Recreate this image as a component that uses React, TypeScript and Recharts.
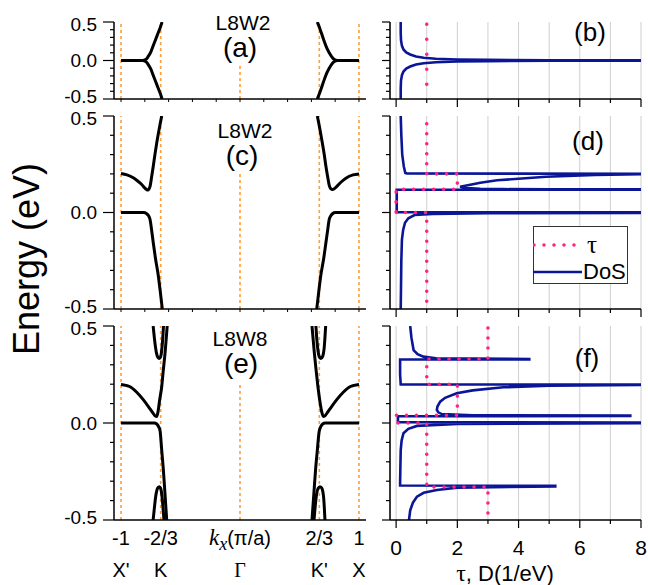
import React from 'react';
import { LineChart, Line, XAxis, YAxis, ReferenceLine, CartesianGrid } from 'recharts';

const FONT = '"Liberation Sans", Arial, sans-serif';
const SERIF = '"Liberation Serif", "Times New Roman", serif';
const ORANGE = '#ff9d3a';
const PINK = '#ff2483';
const NAVY = '#0b1696';

// axis ticks
const energyTicks = [-0.5, -0.4, -0.3, -0.2, -0.1, 0, 0.1, 0.2, 0.3, 0.4, 0.5];
const energyLabels: Record<string, string> = { '-0.5': '-0.5', '0': '0.0', '0.5': '0.5' };
const kMinorTicks = [-1, -0.8, -0.6, -0.4, -0.2, 0, 0.2, 0.4, 0.6, 0.8, 1];
const kTickValues = [-1, -2 / 3, 0, 2 / 3, 1];
const kTickLabels = ['-1', '-2/3', 'k', '2/3', '1'];
const kPointLabels = ["X'", 'K', 'Γ', "K'", 'X'];
const kSymLines = [-1, -2 / 3, 2 / 3, 1];
const gammaTops = [-0.05, 0.2, 0.2];
const dTicks = [0, 1, 2, 3, 4, 5, 6, 7, 8];

// panel (a) bands [k, E]
const aLeftUp = [[-1, 0], [-0.9, 0], [-0.82, 0], [-0.79, 0.015], [-0.77, 0.056], [-0.75, 0.11], [-0.73, 0.19], [-0.71, 0.27], [-0.69, 0.35], [-0.67, 0.43], [-0.655, 0.5]];
const aLeftDown = [[-1, 0], [-0.9, 0], [-0.82, 0], [-0.79, -0.015], [-0.77, -0.056], [-0.75, -0.11], [-0.73, -0.19], [-0.71, -0.27], [-0.69, -0.35], [-0.67, -0.43], [-0.655, -0.5]];
const aRightUp = [[0.65, 0.5], [0.67, 0.42], [0.69, 0.33], [0.71, 0.24], [0.73, 0.16], [0.75, 0.1], [0.77, 0.05], [0.79, 0.015], [0.82, 0], [0.9, 0], [1, 0]];
const aRightDown = [[0.65, -0.5], [0.67, -0.42], [0.69, -0.33], [0.71, -0.24], [0.73, -0.16], [0.75, -0.1], [0.77, -0.05], [0.79, -0.015], [0.82, 0], [0.9, 0], [1, 0]];

// panel (c) bands
const cLeftUp = [[-1, 0.202], [-0.95, 0.195], [-0.897, 0.18], [-0.86, 0.163], [-0.826, 0.145], [-0.8, 0.127], [-0.785, 0.119], [-0.776, 0.116], [-0.765, 0.122], [-0.756, 0.136], [-0.742, 0.188], [-0.729, 0.24], [-0.715, 0.3], [-0.7, 0.36], [-0.68, 0.43], [-0.658, 0.5]];
const cLeftDown = [[-1, 0], [-0.9, 0], [-0.81, 0], [-0.785, -0.006], [-0.77, -0.016], [-0.756, -0.036], [-0.742, -0.095], [-0.729, -0.157], [-0.71, -0.24], [-0.686, -0.33], [-0.67, -0.41], [-0.653, -0.5]];
const cRightUp = [[0.65, 0.5], [0.672, 0.43], [0.692, 0.36], [0.708, 0.3], [0.722, 0.24], [0.736, 0.188], [0.75, 0.14], [0.762, 0.124], [0.779, 0.119], [0.79, 0.122], [0.81, 0.133], [0.85, 0.158], [0.89, 0.178], [0.95, 0.195], [1, 0.2]];
const cRightDown = [[0.645, -0.5], [0.662, -0.41], [0.678, -0.33], [0.703, -0.24], [0.722, -0.157], [0.736, -0.095], [0.75, -0.036], [0.765, -0.016], [0.78, -0.005], [0.8, 0], [0.9, 0], [1, 0]];

// panel (e) bands
const eLeftTop = [[-0.73, 0.5], [-0.72, 0.44], [-0.71, 0.39], [-0.7, 0.355], [-0.69, 0.338], [-0.678, 0.333], [-0.667, 0.342], [-0.658, 0.375], [-0.65, 0.43], [-0.643, 0.5]];
const eLeftMid = [[-1, 0.198], [-0.96, 0.194], [-0.924, 0.187], [-0.87, 0.16], [-0.81, 0.118], [-0.77, 0.085], [-0.73, 0.05], [-0.712, 0.036], [-0.7, 0.034], [-0.69, 0.055], [-0.675, 0.12], [-0.658, 0.187], [-0.645, 0.27], [-0.63, 0.36], [-0.612, 0.5]];
const eLeftZero = [[-1, 0], [-0.9, 0], [-0.72, 0], [-0.7, -0.005], [-0.685, -0.018], [-0.672, -0.04], [-0.658, -0.14], [-0.644, -0.242], [-0.63, -0.37], [-0.616, -0.5]];
const eLeftBot = [[-0.73, -0.5], [-0.72, -0.44], [-0.71, -0.385], [-0.7, -0.35], [-0.69, -0.333], [-0.678, -0.328], [-0.667, -0.337], [-0.657, -0.37], [-0.648, -0.43], [-0.639, -0.5]];
const eRightTop = [[0.638, 0.5], [0.646, 0.43], [0.655, 0.375], [0.666, 0.342], [0.678, 0.333], [0.69, 0.338], [0.7, 0.355], [0.708, 0.39], [0.714, 0.44], [0.72, 0.5]];
const eRightMid = [[0.605, 0.5], [0.625, 0.36], [0.64, 0.27], [0.655, 0.187], [0.672, 0.11], [0.688, 0.055], [0.7, 0.034], [0.712, 0.036], [0.73, 0.05], [0.77, 0.085], [0.81, 0.118], [0.87, 0.16], [0.924, 0.187], [0.96, 0.194], [1, 0.198]];
const eRightZero = [[0.605, -0.5], [0.62, -0.37], [0.635, -0.242], [0.65, -0.14], [0.665, -0.045], [0.68, -0.018], [0.695, -0.005], [0.715, 0], [0.9, 0], [1, 0]];
const eRightBot = [[0.622, -0.5], [0.632, -0.43], [0.643, -0.37], [0.656, -0.337], [0.672, -0.328], [0.685, -0.333], [0.695, -0.35], [0.703, -0.385], [0.709, -0.44], [0.714, -0.5]];

// DoS [D, E] and tau [tau, E]
const dosB = [[0.15, 0.5], [0.15, 0.36], [0.16, 0.26], [0.19, 0.19], [0.24, 0.143], [0.33, 0.105], [0.46, 0.078], [0.65, 0.052], [0.9, 0.035], [1.3, 0.022], [2, 0.013], [3, 0.008], [5, 0.004], [8, 0.002], [8, -0.002], [5, -0.004], [3, -0.008], [2, -0.013], [1.3, -0.022], [0.9, -0.035], [0.65, -0.052], [0.46, -0.078], [0.33, -0.105], [0.24, -0.143], [0.19, -0.19], [0.16, -0.26], [0.15, -0.36], [0.15, -0.5]];
const tauB = [[1, 0.47], [1, -0.5]];

const dosD = [[0.15, 0.5], [0.17, 0.4], [0.2, 0.3], [0.25, 0.24], [0.3, 0.205], [0.35, 0.202], [8, 0.201], [8, 0.199], [6.5, 0.195], [4.9, 0.185], [3.3, 0.167], [2.75, 0.154], [2.3, 0.14], [2.09, 0.133], [2.3, 0.127], [2.75, 0.123], [3.5, 0.121], [5, 0.12], [8, 0.12], [8, 0.118], [0.02, 0.118], [0.02, 0.002], [8, 0.001], [8, -0.002], [3, -0.004], [1.2, -0.007], [0.6, -0.013], [0.4, -0.03], [0.29, -0.053], [0.23, -0.09], [0.19, -0.14], [0.17, -0.25], [0.16, -0.38], [0.15, -0.5]];
const tauD = [[1, 0.46], [1, 0.2], [2, 0.2], [2, 0.12], [0, 0.12], [0, 0], [1, 0], [1, -0.5]];

const dosF = [[0.46, 0.5], [0.5, 0.44], [0.57, 0.376], [0.7, 0.355], [0.89, 0.342], [1.3, 0.334], [4.35, 0.33], [4.35, 0.327], [0.13, 0.327], [0.13, 0.25], [0.15, 0.199], [8, 0.198], [8, 0.196], [5, 0.192], [3.5, 0.184], [2.5, 0.168], [1.98, 0.153], [1.6, 0.13], [1.44, 0.11], [1.35, 0.085], [1.33, 0.067], [1.38, 0.055], [1.49, 0.046], [2.5, 0.04], [7.65, 0.038], [7.65, 0.036], [0.06, 0.035], [0.06, 0.004], [8, 0.002], [8, -0.001], [2, -0.005], [0.68, -0.015], [0.4, -0.03], [0.24, -0.053], [0.18, -0.09], [0.15, -0.14], [0.14, -0.22], [0.13, -0.31], [0.13, -0.322], [5.2, -0.324], [5.2, -0.327], [2, -0.333], [1.33, -0.345], [0.9, -0.36], [0.68, -0.38], [0.55, -0.41], [0.46, -0.45], [0.42, -0.5]];
const tauF = [[3, 0.49], [3, 0.33], [1, 0.33], [1, 0.2], [2, 0.2], [2, 0.04], [0, 0.04], [0, 0], [1, 0], [1, -0.33], [3, -0.33], [3, -0.5]];

const pts = (arr: number[][]) => arr.map(([x, e]) => ({ x, e }));

const axisStyle = { stroke: '#000', strokeWidth: 1.5 };

const EnergyTick = (props: any) => {
  const { x, y, payload, showLabel, majorLen, minorLen } = props;
  const v = Math.round(payload.value * 10) / 10;
  const key = String(v);
  const major = key in energyLabels;
  const nudge = v > 0.4 ? 2.5 : v < -0.4 ? -2.5 : 0;
  return (
    <g>
      <line x1={x} x2={x - (major ? majorLen : minorLen)} y1={y} y2={y} stroke="#000" strokeWidth={1.2} />
      {showLabel && major && (
        <text x={x - 17} y={y + nudge} dy="0.36em" textAnchor="end" fontSize={19} fontFamily={FONT} fill="#000">
          {energyLabels[key]}
        </text>
      )}
    </g>
  );
};

const KMinorTick = (props: any) => {
  const { x, y } = props;
  return <line x1={x} x2={x} y1={y} y2={y + 3} stroke="#000" strokeWidth={1} />;
};

const KLabelTick = (props: any) => {
  const { x, y, index } = props;
  const lab = kTickLabels[index];
  return (
    <g fontFamily={FONT} fill="#000">
      {lab === 'k' ? (
        <text x={x} y={y + 25} textAnchor="middle" fontSize={20}>
          <tspan fontFamily={SERIF} fontStyle="italic" fontSize={23}>k</tspan>
          <tspan fontFamily={SERIF} fontStyle="italic" fontSize={18} dy={5}>x</tspan>
          <tspan dy={-5}>(π/a)</tspan>
        </text>
      ) : (
        <text x={x} y={y + 25} textAnchor="middle" fontSize={20}>{lab}</text>
      )}
      <text x={x} y={y + 57} textAnchor="middle" fontSize={20} fontFamily={kPointLabels[index] === 'Γ' ? SERIF : FONT}>
        {kPointLabels[index]}
      </text>
    </g>
  );
};

const DTick = (props: any) => {
  const { x, y, payload, showLabel } = props;
  const v = payload.value;
  const major = v % 2 === 0;
  return (
    <g>
      <line x1={x} x2={x} y1={y} y2={y + (major ? 8 : 4)} stroke="#000" strokeWidth={1.2} />
      {showLabel && major && (
        <text x={x} y={y + 35} textAnchor="middle" fontSize={21} fontFamily={FONT} fill="#000">{v}</text>
      )}
    </g>
  );
};

const bandLine = (arr: number[][], i: number) => (
  <Line key={i} data={pts(arr)} dataKey="e" type="monotoneX" stroke="#000" strokeWidth={3}
    dot={false} activeDot={false} isAnimationActive={false} />
);

function BandPanel({ top, height, marginTop, xHeight, plotH, bands, gammaTop, labeled }: any) {
  const marginBottom = height - marginTop - plotH - xHeight;
  return (
    <div style={{ position: 'absolute', left: 0, top, width: 380, height }}>
      <LineChart width={380} height={height} margin={{ top: marginTop, right: 14, bottom: marginBottom, left: 0 }}>
        <XAxis type="number" dataKey="x" domain={[-1.059, 1.059]} allowDataOverflow
          ticks={labeled ? kTickValues : kMinorTicks} interval={0} height={xHeight}
          tickSize={0} tickMargin={0} axisLine={axisStyle}
          tick={labeled ? (p: any) => <KLabelTick {...p} /> : (p: any) => <KMinorTick {...p} />} />
        <YAxis type="number" domain={[-0.5, 0.5]} allowDataOverflow ticks={energyTicks} interval={0}
          width={114} tickSize={0} tickMargin={0} axisLine={axisStyle}
          tick={(p: any) => <EnergyTick {...p} showLabel majorLen={11} minorLen={4} />} />
        {kSymLines.map((k) => (
          <ReferenceLine key={k} x={k} stroke={ORANGE} strokeWidth={1.6} strokeDasharray="3 3" />
        ))}
        <ReferenceLine segment={[{ x: 0, y: -0.5 }, { x: 0, y: gammaTop }]} stroke={ORANGE} strokeWidth={1.6} strokeDasharray="3 3" />
        {bands.map((b: number[][], i: number) => bandLine(b, i))}
      </LineChart>
    </div>
  );
}

function DosPanel({ top, height, marginTop, xHeight, plotH, dos, tau, labeled, dotGap }: any) {
  const marginBottom = height - marginTop - plotH - xHeight;
  return (
    <div style={{ position: 'absolute', left: 370, top, width: 278, height }}>
      <LineChart width={278} height={height} margin={{ top: marginTop, right: 7, bottom: marginBottom, left: 0 }}>
        <CartesianGrid horizontal={false} stroke="#cfcfcf" strokeWidth={1} />
        <XAxis type="number" dataKey="x" domain={[-0.2, 8]} allowDataOverflow ticks={dTicks} interval={0}
          height={xHeight} tickSize={0} tickMargin={0} axisLine={axisStyle}
          tick={(p: any) => <DTick {...p} showLabel={labeled} />} />
        <YAxis type="number" domain={[-0.5, 0.5]} allowDataOverflow ticks={energyTicks} interval={0}
          width={20} tickSize={0} tickMargin={0} axisLine={axisStyle}
          tick={(p: any) => <EnergyTick {...p} showLabel={false} majorLen={8} minorLen={4} />} />
        <Line data={pts(dos)} dataKey="e" type="linear" stroke={NAVY} strokeWidth={2.6}
          dot={false} activeDot={false} isAnimationActive={false} />
        <Line data={pts(tau)} dataKey="e" type="linear" stroke={PINK} strokeWidth={3.6}
          strokeDasharray={`0 ${dotGap}`} strokeLinecap="round"
          dot={false} activeDot={false} isAnimationActive={false} />
      </LineChart>
    </div>
  );
}

const Txt = ({ x, y, size, children, family, style }: any) => (
  <div style={{
    position: 'absolute', left: x, top: y, transform: 'translate(-50%, -50%)', fontSize: size,
    fontFamily: family || FONT, lineHeight: 1, whiteSpace: 'nowrap', color: '#000', ...style,
  }}>{children}</div>
);

export default function App() {
  return (
    <div style={{ position: 'absolute', left: 0, top: 0, width: 648, height: 585, background: '#fff', overflow: 'hidden' }}>
      <BandPanel top={0} height={112} marginTop={22} xHeight={10} plotH={77} bands={[aLeftUp, aLeftDown, aRightUp, aRightDown]} gammaTop={gammaTops[0]} labeled={false} />
      <BandPanel top={100} height={225} marginTop={16} xHeight={10} plotH={193} bands={[cLeftUp, cLeftDown, cRightUp, cRightDown]} gammaTop={gammaTops[1]} labeled={false} />
      <BandPanel top={310} height={275} marginTop={16} xHeight={60} plotH={194} bands={[eLeftTop, eLeftMid, eLeftZero, eLeftBot, eRightTop, eRightMid, eRightZero, eRightBot]} gammaTop={gammaTops[2]} labeled />

      <DosPanel top={0} height={112} marginTop={22} xHeight={10} plotH={77} dos={dosB} tau={tauB} labeled={false} dotGap={15} />
      <DosPanel top={100} height={225} marginTop={16} xHeight={10} plotH={193} dos={dosD} tau={tauD} labeled={false} dotGap={10} />
      <DosPanel top={310} height={275} marginTop={16} xHeight={60} plotH={194} dos={dosF} tau={tauF} labeled dotGap={10} />

      <Txt x={243} y={22} size={21}>L8W2</Txt>
      <Txt x={240} y={48} size={28}>(a)</Txt>
      <Txt x={245} y={130} size={21}>L8W2</Txt>
      <Txt x={242} y={156} size={28}>(c)</Txt>
      <Txt x={240} y={338} size={21}>L8W8</Txt>
      <Txt x={241} y={364} size={28}>(e)</Txt>
      <Txt x={590} y={32} size={26}>(b)</Txt>
      <Txt x={588} y={141} size={26}>(d)</Txt>
      <Txt x={587} y={358} size={26}>(f)</Txt>

      <Txt x={27} y={259} size={36} style={{ transform: 'translate(-50%, -50%) rotate(-90deg)' }}>Energy (eV)</Txt>
      <Txt x={505} y={573} size={22}><span style={{ fontFamily: SERIF, fontSize: 24 }}>τ</span>, D(1/eV)</Txt>

      <div style={{ position: 'absolute', left: 533, top: 226, width: 95, height: 58, border: '1px solid #333', boxSizing: 'border-box', background: '#fff' }}>
        <svg width={95} height={58} style={{ position: 'absolute', left: -1, top: -1 }}>
          <line x1={1} x2={42} y1={19} y2={19} stroke={PINK} strokeWidth={3.6} strokeDasharray="0 10" strokeLinecap="round" />
          <line x1={0} x2={49} y1={46} y2={46} stroke={NAVY} strokeWidth={2.6} />
        </svg>
        <div style={{ position: 'absolute', left: 53, top: 5, fontFamily: SERIF, fontSize: 25, lineHeight: 1 }}>τ</div>
        <div style={{ position: 'absolute', left: 49, top: 34, fontFamily: FONT, fontSize: 22, lineHeight: 1 }}>DoS</div>
      </div>
    </div>
  );
}
